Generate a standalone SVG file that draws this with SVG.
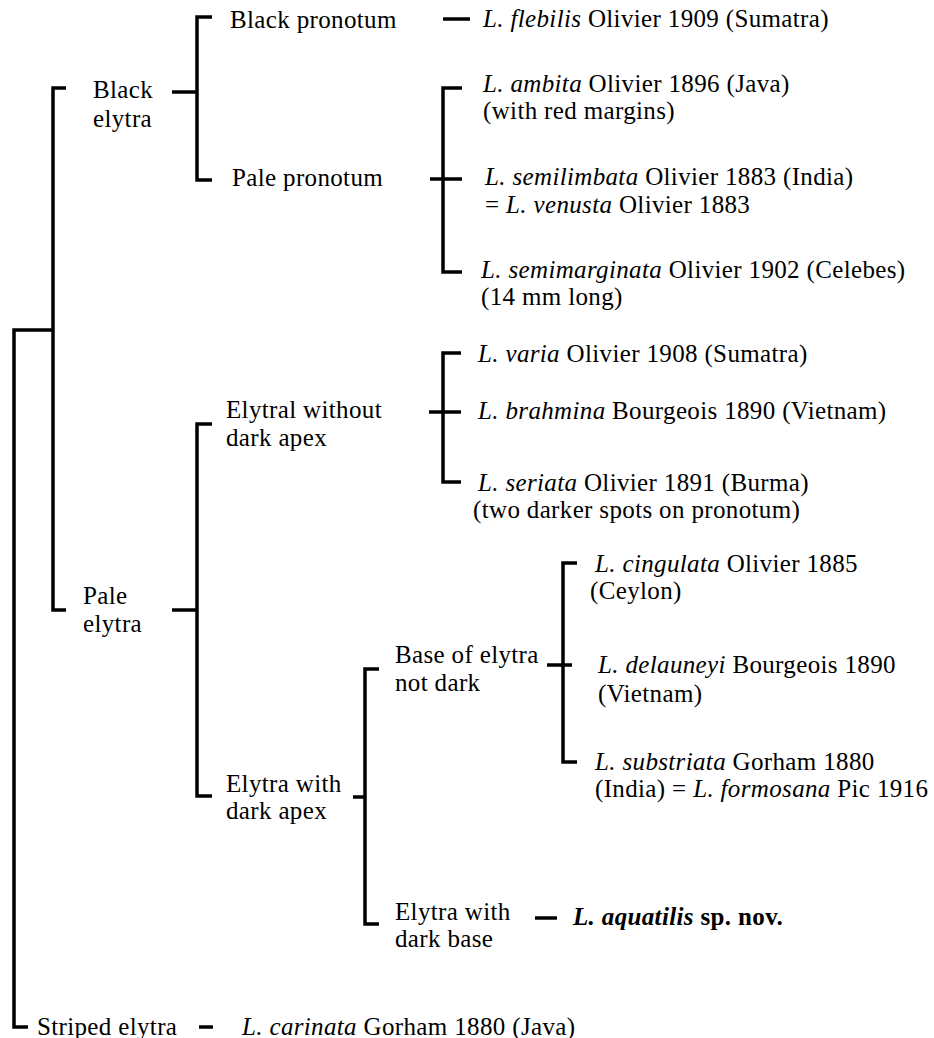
<svg xmlns="http://www.w3.org/2000/svg" width="934" height="1038" viewBox="0 0 934 1038">
<style>
text{font-family:"Liberation Serif","Times New Roman",serif;font-size:25px;fill:#000;letter-spacing:0.35px}
.i{font-style:italic}
.b{font-weight:bold}
.c path{fill:none;stroke:#000;stroke-width:3.5;stroke-linecap:butt;stroke-linejoin:miter}
</style>
<rect width="934" height="1038" fill="#fff"/>
<g id="connectors" class="c">
<path d="M52,330 H14 V1027 H28"/>
<path d="M66,88 H53 V610 H66"/>
<path d="M172,92 H197"/>
<path d="M212,17 H197 V180 H212"/>
<path d="M443,19 H470"/>
<path d="M462,88 H443 V272 H462"/>
<path d="M430,179 H462"/>
<path d="M172,610 H197"/>
<path d="M212,424 H197 V796 H212"/>
<path d="M461,353 H443 V482 H461"/>
<path d="M429,412 H461"/>
<path d="M353,797 H365"/>
<path d="M379,669 H365 V924 H379"/>
<path d="M577,563 H563 V762 H577"/>
<path d="M547,665 H572"/>
<path d="M535,918 H557"/>
<path d="M199,1027 H213"/>
</g>
<g id="black-elytra"><text x="93" y="98">Black</text><text x="93" y="127">elytra</text></g>
<g id="black-pronotum"><text x="230" y="28">Black pronotum</text></g>
<g id="flebilis"><text x="483" y="27"><tspan class="i">L. flebilis</tspan> Olivier 1909 (Sumatra)</text></g>
<g id="pale-pronotum"><text x="232" y="186">Pale pronotum</text></g>
<g id="ambita"><text x="483" y="92"><tspan class="i">L. ambita</tspan> Olivier 1896 (Java)</text><text x="483" y="119">(with red margins)</text></g>
<g id="semilimbata"><text x="485" y="185"><tspan class="i">L. semilimbata</tspan> Olivier 1883 (India)</text><text x="485" y="213">= <tspan class="i">L. venusta</tspan> Olivier 1883</text></g>
<g id="semimarginata"><text x="481" y="278"><tspan class="i">L. semimarginata</tspan> Olivier 1902 (Celebes)</text><text x="481" y="305">(14 mm long)</text></g>
<g id="pale-elytra"><text x="83" y="604">Pale</text><text x="83" y="632">elytra</text></g>
<g id="without-dark-apex"><text x="226" y="418">Elytral without</text><text x="226" y="446">dark apex</text></g>
<g id="varia"><text x="478" y="362"><tspan class="i">L. varia</tspan> Olivier 1908 (Sumatra)</text></g>
<g id="brahmina"><text x="478" y="419"><tspan class="i">L. brahmina</tspan> Bourgeois 1890 (Vietnam)</text></g>
<g id="seriata"><text x="478" y="491"><tspan class="i">L. seriata</tspan> Olivier 1891 (Burma)</text><text x="473" y="518">(two darker spots on pronotum)</text></g>
<g id="with-dark-apex"><text x="226" y="792">Elytra with</text><text x="226" y="819">dark apex</text></g>
<g id="base-not-dark"><text x="395" y="663">Base of elytra</text><text x="395" y="691">not dark</text></g>
<g id="cingulata"><text x="595" y="572"><tspan class="i">L. cingulata</tspan> Olivier 1885</text><text x="590" y="599">(Ceylon)</text></g>
<g id="delauneyi"><text x="598" y="673"><tspan class="i">L. delauneyi</tspan> Bourgeois 1890</text><text x="598" y="702">(Vietnam)</text></g>
<g id="substriata"><text x="595" y="770"><tspan class="i">L. substriata</tspan> Gorham 1880</text><text x="595" y="797">(India) = <tspan class="i">L. formosana</tspan> Pic 1916</text></g>
<g id="dark-base"><text x="395" y="920">Elytra with</text><text x="395" y="947">dark base</text></g>
<g id="aquatilis"><text x="573" y="925" class="b"><tspan class="i">L. aquatilis</tspan> sp. nov.</text></g>
<g id="striped-elytra"><text x="37" y="1035">Striped elytra</text></g>
<g id="carinata"><text x="242" y="1035"><tspan class="i">L. carinata</tspan> Gorham 1880 (Java)</text></g>
</svg>
